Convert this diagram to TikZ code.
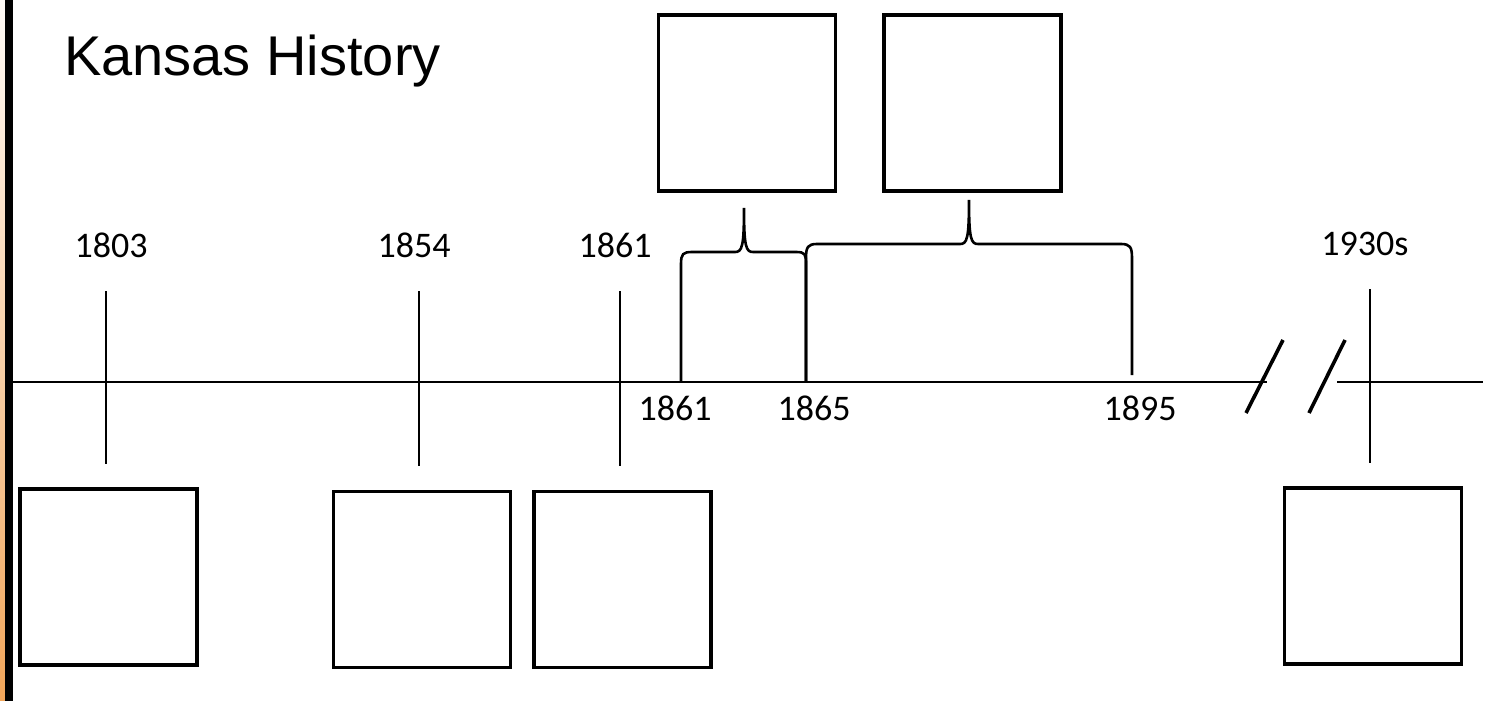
\documentclass[tikz,border=0pt]{standalone}
\usepackage{fontspec}
\newfontfamily\headfont{Liberation Sans}
\newfontfamily\yearfont{Carlito}
\usetikzlibrary{positioning}

\begin{document}
\begin{tikzpicture}[
  x=1pt, y=-1pt,
  card/.style={draw, line width=3.8pt, minimum width=177pt, minimum height=176pt, inner sep=0pt},
  yr/.style={font=\yearfont\fontsize{36}{40}\selectfont, inner sep=0pt, anchor=base},
  axisline/.style={line width=2.6pt},
  yrline/.style={line width=2.6pt},
  bracket/.style={line width=2.6pt},
  breakmark/.style={line width=3.6pt}
]
\useasboundingbox (0,0) rectangle (1492,701);
\fill[white] (0,0) rectangle (1492,701);

% left frame strip
\shade[top color=white!85!orange!20, middle color=orange!45!yellow!60!white, bottom color=orange!70!brown!70] (0,0) rectangle (5,701);
\fill[black] (5,0) rectangle (13,701);

\node[font=\headfont\fontsize{56}{60}\selectfont, anchor=base west, inner sep=0pt] (title) at (64,76) {Kansas History};

% time axis with break
\coordinate (axL) at (13,382);
\coordinate (axB) at (1267,382);
\coordinate (axC) at (1337,382);
\coordinate (axR) at (1483,382);
\draw[axisline] (axL) -- (axB);
\draw[axisline] (axC) -- (axR);
\draw[breakmark] (1246,413) -- (1283,340);
\draw[breakmark] (1309,413) -- (1345,340);

% year ticks
\coordinate (t1803) at (106,291);
\coordinate (t1854) at (419,291);
\coordinate (t1861) at (620,291);
\coordinate (t1930) at (1370,289);
\draw[yrline] (t1803) -- ++(0,173);
\draw[yrline] (t1854) -- ++(0,175);
\draw[yrline] (t1861) -- ++(0,175);
\draw[yrline] (t1930) -- ++(0,174);

\node[yr] (l1803) at (111,257) {1803};
\node[yr] (l1854) at (414,257) {1854};
\node[yr] (l1861) at (615,257) {1861};
\node[yr] (l1930) at (1365,255) {1930s};

\node[yr] (m1861) at (675,420) {1861};
\node[yr] (m1865) at (814,420) {1865};
\node[yr] (m1895) at (1140,420) {1895};

% boxes
\node[card] (war) at (747,103) {};
\node[card] (post) at (972.5,103) {};
\node[card] (b1803) at (108.5,577) {};
\node[card] (b1854) at (422,579.5) {};
\node[card] (b1861) at (622.5,579.5) {};
\node[card] (b1930) at (1373,576) {};

% brackets
\draw[bracket] (681,382) -- (681,264) .. controls (681,254) and (683,252) .. (692,252)
  -- (735,252) .. controls (742,252) and (744,247) .. (744,208)
  .. controls (744,247) and (746,252) .. (753,252) -- (796,252)
  .. controls (805,252) and (806,254) .. (806,264) -- (806,382);
\draw[bracket] (806,382) -- (806,258) .. controls (806,247) and (808,244) .. (817,244)
  -- (960,244) .. controls (967,244) and (969,239) .. (969,200)
  .. controls (969,239) and (971,244) .. (978,244) -- (1121,244)
  .. controls (1130,244) and (1132,247) .. (1132,258) -- (1132,375);
\end{tikzpicture}
\end{document}
